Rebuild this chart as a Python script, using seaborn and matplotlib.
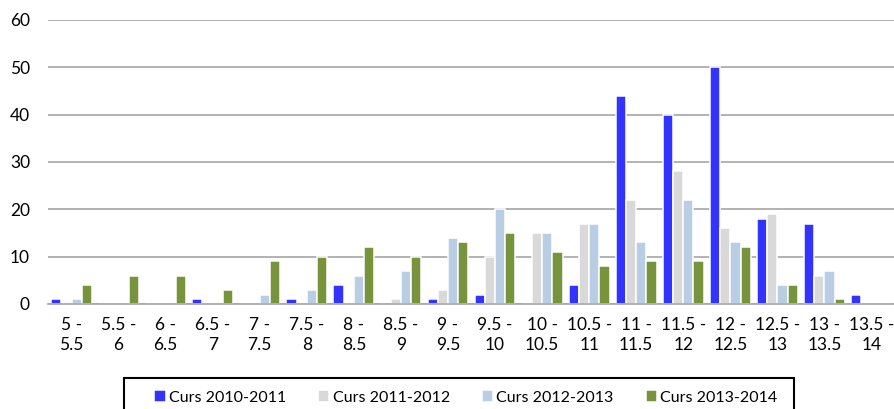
import matplotlib
matplotlib.use('Agg')
import matplotlib.pyplot as plt
from matplotlib.patches import Rectangle
import pandas as pd
import seaborn as sns

intervals = ['5 -\n5.5', '5.5 -\n6', '6 -\n6.5', '6.5 -\n7', '7 -\n7.5', '7.5 -\n8',
             '8 -\n8.5', '8.5 -\n9', '9 -\n9.5', '9.5 -\n10', '10 -\n10.5', '10.5 -\n11',
             '11 -\n11.5', '11.5 -\n12', '12 -\n12.5', '12.5 -\n13', '13 -\n13.5', '13.5 -\n14']

curs_2010 = [1, 0, 0, 1, 0, 1, 4, 0, 1, 2, 0, 4, 44, 40, 50, 18, 17, 2]
curs_2011 = [0, 0, 0, 0, 0, 0, 0, 1, 3, 10, 15, 17, 22, 28, 16, 19, 6, 0]
curs_2012 = [1, 0, 0, 0, 2, 3, 6, 7, 14, 20, 15, 17, 13, 22, 13, 4, 7, 0]
curs_2013 = [4, 6, 6, 3, 9, 10, 12, 10, 13, 15, 11, 8, 9, 9, 12, 4, 1, 0]

series_names = ['Curs 2010-2011', 'Curs 2011-2012', 'Curs 2012-2013', 'Curs 2013-2014']
colors = ['#3333FF', '#D9D9D9', '#B9CDE5', '#77933C']

# long format for seaborn
rows = []
for name, vals in zip(series_names, [curs_2010, curs_2011, curs_2012, curs_2013]):
    for cat, v in zip(intervals, vals):
        rows.append({'interval': cat, 'count': v, 'curs': name})
df = pd.DataFrame(rows)

sns.set_style('white')
plt.rcParams['font.family'] = ['Lato', 'DejaVu Sans']

W, H = 895, 409
fig = plt.figure(figsize=(W / 100, H / 100), dpi=100)
ax = fig.add_axes([48 / W, 1 - 304 / H, 847 / W, 284 / H])

sns.barplot(data=df, x='interval', y='count', hue='curs', palette=colors,
            order=intervals, hue_order=series_names, width=0.87, saturation=1,
            edgecolor='white', linewidth=1.1, ax=ax)

ax.set_ylim(0, 60)
ax.set_yticks(range(0, 61, 10))
ax.set_axisbelow(True)
ax.yaxis.grid(True, color='#A6A6A6', linewidth=1.2)
ax.xaxis.grid(False)
for s in ['top', 'right', 'left']:
    ax.spines[s].set_visible(False)
ax.spines['bottom'].set_color('#A6A6A6')
ax.spines['bottom'].set_linewidth(1.2)
ax.set_xlabel('')
ax.set_ylabel('')
ax.tick_params(axis='x', length=0, pad=9, labelsize=12.5, labelcolor='black')
ax.tick_params(axis='y', length=0, pad=13, labelsize=12.5, labelcolor='black')
for t in ax.get_xticklabels():
    t.set_linespacing(1.35)

handles, labels = ax.get_legend_handles_labels()
ax.get_legend().remove()
fig.legend(handles, labels, loc='center left', bbox_to_anchor=(154 / W, 1 - 397.5 / H),
           ncol=4, frameon=False, fontsize=11.5, labelcolor='black',
           handlelength=0.72, handleheight=0.72, handletextpad=0.2,
           columnspacing=2.0, borderpad=0, borderaxespad=0)

# legend box (runs off the bottom edge like the original)
fig.patches.append(Rectangle((124 / W, -0.05), 670 / W, 0.05 + 1 - 378 / H,
                             transform=fig.transFigure, fill=False,
                             edgecolor='black', linewidth=1.5))

fig.savefig('out.png', dpi=100)
